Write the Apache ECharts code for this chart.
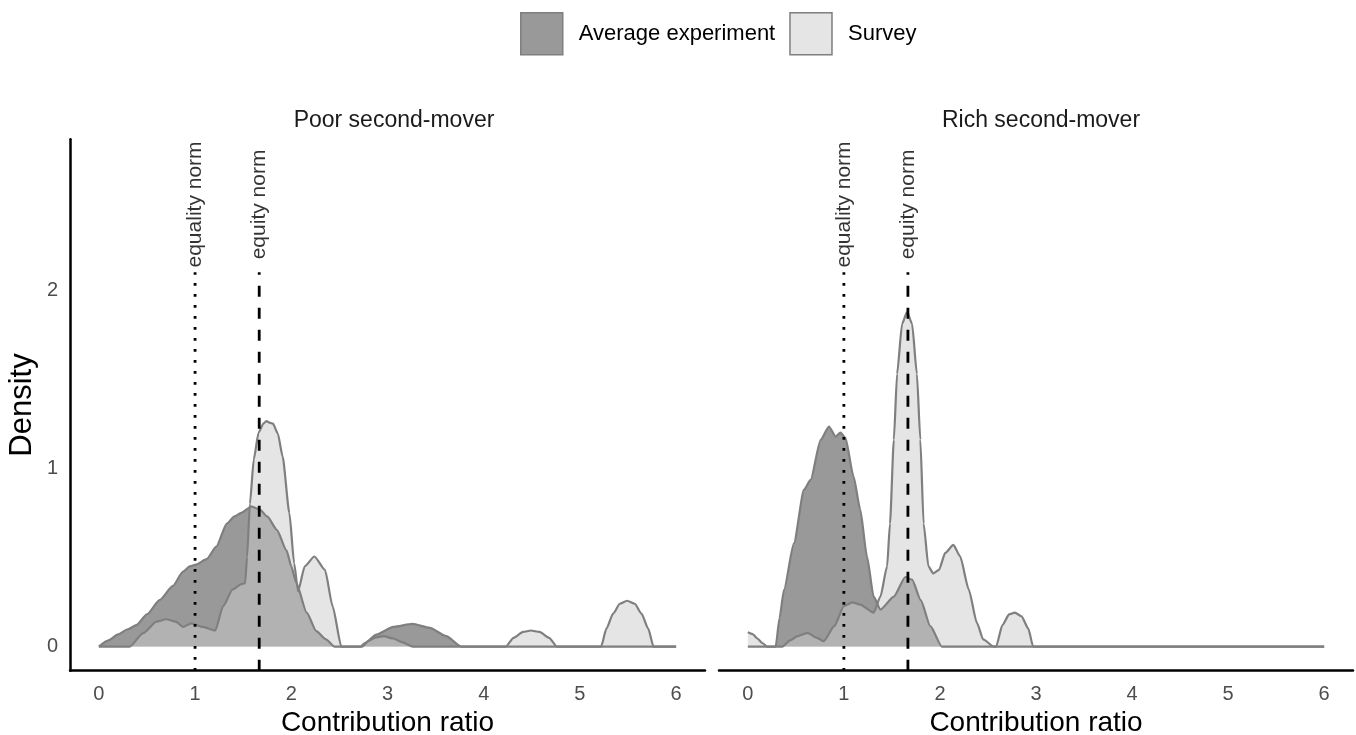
<!DOCTYPE html>
<html><head><meta charset="utf-8">
<script src="https://cdn.jsdelivr.net/npm/echarts@6/dist/echarts.min.js"></script>
<style>html,body{margin:0;padding:0;background:#fff}#c{width:1356px;height:735px}</style>
</head><body><div id="c"></div>
<script>
// ---- data ----
const xTicks = [0, 1, 2, 3, 4, 5, 6];
const yTicks = [0, 1, 2];
const panels = ['Poor second-mover', 'Rich second-mover'];
const groups = ['Average experiment', 'Survey'];
const normNames = ['equality norm', 'equity norm'];
const normValues = [1, 5 / 3];

const poorExperiment = [[0,0],[0.1,0.035],[0.2,0.068],[0.3,0.097],[0.39,0.12],[0.5,0.18],[0.63,0.26],[0.77,0.34],[0.875,0.42],[0.945,0.45],[1.01,0.46],[1.12,0.49],[1.22,0.56],[1.33,0.69],[1.41,0.73],[1.48,0.75],[1.585,0.785],[1.67,0.77],[1.75,0.73],[1.85,0.655],[1.95,0.54],[2.0,0.45],[2.05,0.36],[2.16,0.19],[2.26,0.086],[2.36,0.04],[2.45,0],[2.72,0],[2.765,0.02],[2.885,0.067],[3.06,0.11],[3.26,0.127],[3.44,0.105],[3.61,0.058],[3.765,0],[6,0]];
const poorSurvey = [[0,0],[0.32,0],[0.46,0.075],[0.6,0.14],[0.7,0.153],[0.8,0.14],[0.875,0.11],[0.96,0.13],[1.08,0.11],[1.21,0.09],[1.29,0.225],[1.39,0.32],[1.48,0.35],[1.52,0.355],[1.54,0.5],[1.57,0.8],[1.61,1.05],[1.66,1.2],[1.71,1.25],[1.74,1.265],[1.78,1.255],[1.81,1.25],[1.86,1.195],[1.91,1.066],[1.98,0.75],[2.03,0.467],[2.07,0.31],[2.14,0.45],[2.24,0.505],[2.35,0.43],[2.43,0.225],[2.52,0],[2.74,0],[2.8,0.03],[2.87,0.05],[2.96,0.058],[3.06,0.045],[3.15,0.025],[3.26,0],[4.23,0],[4.31,0.049],[4.41,0.082],[4.49,0.09],[4.58,0.082],[4.68,0.049],[4.76,0],[5.22,0],[5.275,0.1],[5.345,0.185],[5.415,0.24],[5.49,0.257],[5.57,0.24],[5.64,0.185],[5.71,0.1],[5.765,0],[6,0]];
const richExperiment = [[0,0],[0.29,0],[0.33,0.16],[0.377,0.32],[0.48,0.58],[0.585,0.88],[0.654,0.935],[0.758,1.16],[0.845,1.234],[0.914,1.178],[0.965,1.2],[1.017,1.17],[1.1,0.955],[1.17,0.77],[1.24,0.506],[1.31,0.28],[1.38,0.207],[1.52,0.28],[1.64,0.39],[1.71,0.375],[1.8,0.26],[1.9,0.114],[2.02,0],[6,0]];
const richSurvey = [[0,0.08],[0.05,0.07],[0.1,0.045],[0.15,0.02],[0.2,0],[0.36,0],[0.44,0.035],[0.516,0.058],[0.62,0.077],[0.72,0.049],[0.79,0.03],[0.9,0.114],[1.0,0.226],[1.087,0.248],[1.17,0.235],[1.31,0.19],[1.38,0.28],[1.45,0.45],[1.48,0.69],[1.52,1.16],[1.554,1.53],[1.606,1.81],[1.658,1.878],[1.71,1.81],[1.76,1.53],[1.796,1.16],[1.83,0.69],[1.88,0.45],[1.93,0.41],[1.99,0.43],[2.055,0.525],[2.14,0.57],[2.21,0.506],[2.3,0.32],[2.385,0.133],[2.45,0.04],[2.56,0],[2.585,0],[2.65,0.12],[2.72,0.18],[2.78,0.19],[2.85,0.17],[2.92,0.1],[2.97,0],[6,0]];

// ---- styling / layout ----
const FONT = "'Liberation Sans', Arial, Helvetica, sans-serif";
const X_MIN = -0.3, X_MAX = 6.3, Y_MIN = -0.1355, Y_MAX = 2.8455;
const NORM_TOP = 2.1, NORM_LABEL_Y = 2.48;
const fills = ['#333333', '#cccccc'];
const legendFills = ['#999999', '#e5e5e5'];
const outline = '#7f7f7f';

const chart = echarts.init(document.getElementById('c'), null, {renderer: 'canvas'});

const grids = [
  {left: 70, top: 139.3, width: 635, height: 531.4, containLabel: false, outerBoundsMode: 'none'},
  {left: 719, top: 139.3, width: 634, height: 531.4, containLabel: false, outerBoundsMode: 'none'}
];

const xAxes = grids.map((g, i) => ({
  type: 'value', gridIndex: i, min: X_MIN, max: X_MAX,
  axisLine: {show: true, onZero: false, lineStyle: {color: '#000', width: 2.5}},
  axisTick: {show: false}, splitLine: {show: false},
  axisLabel: {customValues: xTicks, fontSize: 20, color: '#4d4d4d', fontFamily: FONT, margin: 14},
  name: 'Contribution ratio', nameLocation: 'middle', nameGap: 32,
  nameTextStyle: {fontSize: 28, color: '#000', fontFamily: FONT}
}));
const yAxes = grids.map((g, i) => ({
  type: 'value', gridIndex: i, min: Y_MIN, max: Y_MAX,
  axisLine: {show: i === 0, onZero: false, lineStyle: {color: '#000', width: 2.5}},
  axisTick: {show: false}, splitLine: {show: false},
  axisLabel: {show: i === 0, customValues: yTicks, fontSize: 20, color: '#4d4d4d', fontFamily: FONT, margin: 12},
  name: i === 0 ? 'Density' : '', nameLocation: 'middle', nameGap: 32,
  nameTextStyle: {fontSize: 31, color: '#000', fontFamily: FONT}
}));

function areaSeries(name, data, idx, gi) {
  return {
    type: 'line', name, data, xAxisIndex: gi, yAxisIndex: gi,
    showSymbol: false, symbol: 'none', smooth: 0.2, smoothMonotone: 'x',
    lineStyle: {color: outline, width: 2.2},
    itemStyle: {color: legendFills[idx]},
    areaStyle: {color: fills[idx], opacity: 0.5, origin: 0},
    silent: true
  };
}

const series = [
  areaSeries(groups[0], poorExperiment, 0, 0),
  areaSeries(groups[1], poorSurvey, 1, 0),
  areaSeries(groups[0], richExperiment, 0, 1),
  areaSeries(groups[1], richSurvey, 1, 1)
];

const lineTypes = [[2.8, 8.2], [11, 11]];
[0, 1].forEach(gi => {
  normValues.forEach((v, k) => {
    series.push({
      type: 'line', name: normNames[k] + gi, xAxisIndex: gi, yAxisIndex: gi,
      data: [[v, Y_MIN], [v, NORM_TOP]], showSymbol: false, symbol: 'none',
      lineStyle: {color: '#000', width: 2.8, type: lineTypes[k]}, silent: true
    });
    series.push({
      type: 'scatter', name: 'lbl' + gi + k, xAxisIndex: gi, yAxisIndex: gi,
      data: [[v, NORM_LABEL_Y]], symbolSize: 0, silent: true,
      label: {show: true, position: 'inside', rotate: 90, formatter: normNames[k],
        fontSize: 21, color: '#000', fontFamily: FONT}
    });
  });
});

chart.setOption({
  animation: false,
  backgroundColor: '#fff',
  grid: grids,
  xAxis: xAxes,
  yAxis: yAxes,
  title: [
    {text: panels[0], left: 389, top: 104, textAlign: 'center',
      textStyle: {fontSize: 23, fontWeight: 'normal', color: '#1a1a1a', fontFamily: FONT}},
    {text: panels[1], left: 1036, top: 104, textAlign: 'center',
      textStyle: {fontSize: 23, fontWeight: 'normal', color: '#1a1a1a', fontFamily: FONT}}
  ],
  legend: {
    left: 520, top: 12, padding: 0, itemWidth: 42, itemHeight: 42, itemGap: 14,
    icon: 'rect', selectedMode: false,
    data: groups.map((g, i) => ({name: g, itemStyle: {color: legendFills[i], borderColor: outline, borderWidth: 1.5}})),
    textStyle: {fontSize: 22, color: '#000', fontFamily: FONT, padding: [0, 0, 0, 11]}
  },
  series
});
</script></body></html>
